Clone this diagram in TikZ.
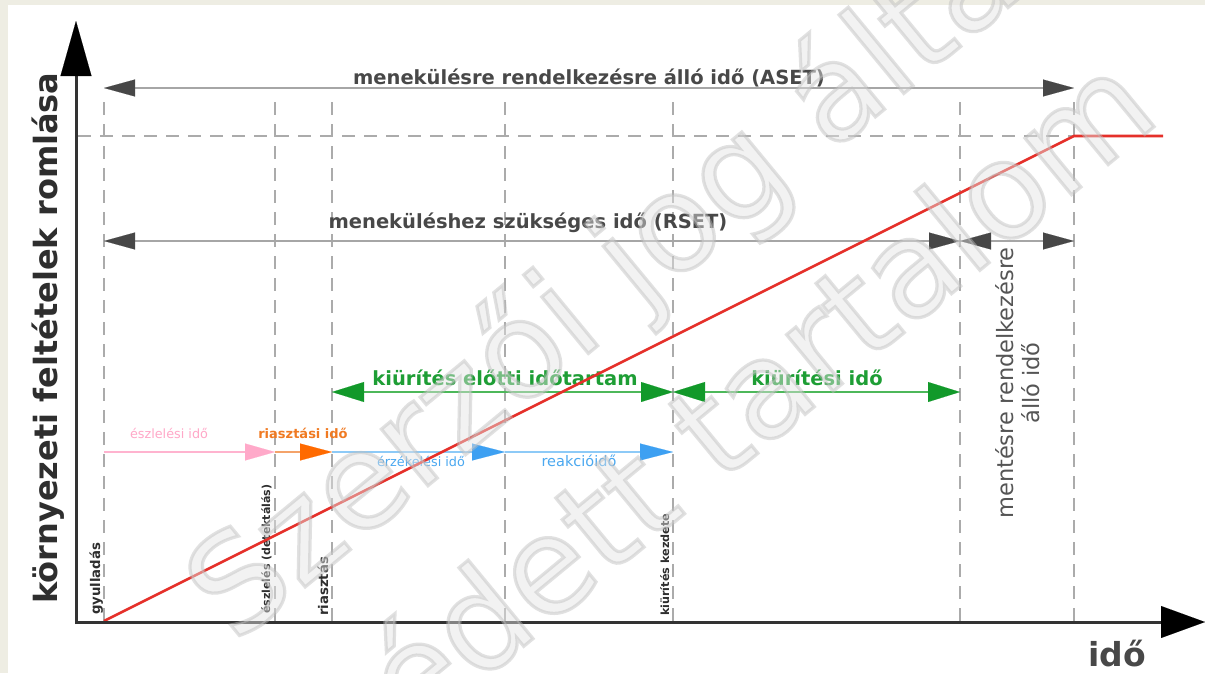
\documentclass[tikz,border=0pt]{standalone}
\usepackage{fontspec}
\setmainfont{DejaVu Sans}
\usetikzlibrary{arrows.meta}
\definecolor{bgbeige}{HTML}{EEEDE3}
\definecolor{axiscol}{HTML}{333333}
\definecolor{dashcol}{HTML}{ABABAB}
\definecolor{dimline}{HTML}{A6A6A6}
\definecolor{dimhead}{HTML}{474747}
\definecolor{dimtext}{HTML}{484848}
\definecolor{grline}{HTML}{4DB85A}
\definecolor{grhead}{HTML}{12992A}
\definecolor{grtext}{HTML}{1E9E35}
\definecolor{pkline}{HTML}{FFB3CF}
\definecolor{pkhead}{HTML}{FFA9C9}
\definecolor{pktext}{HTML}{FFA8C8}
\definecolor{orline}{HTML}{F4A36A}
\definecolor{orhead}{HTML}{FF6A00}
\definecolor{ortext}{HTML}{F07A22}
\definecolor{blline}{HTML}{8DCAF7}
\definecolor{blhead}{HTML}{3DA0F2}
\definecolor{bltext}{HTML}{4AA8F0}
\definecolor{redcol}{HTML}{E5302A}
\definecolor{wmfill}{HTML}{E4E4E4}
\definecolor{labcol}{HTML}{2E2E2E}
\definecolor{mentcol}{HTML}{555555}
\newcommand\myfs[2]{\fontsize{#1}{#2}\selectfont}
\newcommand\wmoutline[1]{\special{pdf:literal direct 0.74 G 3.2 w 2 Tr}#1\special{pdf:literal direct 0 Tr}}
\tikzset{
  dashln/.style={draw=dashcol, line width=2pt, dash pattern=on 13pt off 9pt},
  axisln/.style={draw=axiscol, line width=3pt},
  redln/.style={draw=redcol, line width=2.6pt, line join=miter},
  gtip/.tip={Triangle[length=31pt,width=17pt,color=dimhead,line width=0.1pt]},
  gntip/.tip={Triangle[length=32pt,width=20pt,color=grhead,line width=0.1pt]},
  pktip/.tip={Triangle[length=30pt,width=17pt,color=pkhead,line width=0.1pt]},
  ortip/.tip={Triangle[length=32pt,width=17pt,color=orhead,line width=0.1pt]},
  bltip/.tip={Triangle[length=33pt,width=17pt,color=blhead,line width=0.1pt]},
  graydim/.style={draw=dimline, line width=2pt, gtip-gtip},
  greendim/.style={draw=grline, line width=2pt, gntip-gntip},
  bigtext/.style={font=\bfseries\myfs{19.5}{23}, inner sep=0pt, anchor=base},
  smalltext/.style={font=\myfs{12.8}{15}, inner sep=0pt, anchor=base},
  evlabel/.style={font=\bfseries\myfs{12}{14}, text=labcol, rotate=90, inner sep=0pt, anchor=base west},
  wm/.style={rotate=39.5, font=\myfs{134}{134}, inner sep=0pt, text=wmfill, text opacity=0.45}
}
\begin{document}
\begin{tikzpicture}[x=1pt,y=-1pt]
\useasboundingbox (0,0) rectangle (1205,673);
\fill[bgbeige] (0,0) rectangle (1205,673);
\fill[white] (8,5) rectangle (1205,673);

% vertical dashed event lines
\foreach \n/\xx in {g/104,e/275,r/332,s/505,k/673,m/960,a/1074} {
  \coordinate (top\n) at (\xx,102);
  \coordinate (bot\n) at (\xx,621);
  \draw[dashln] (top\n) -- (bot\n);
}
\coordinate (hl) at (78,136);
\coordinate (hr) at (1074,136);
\draw[dashln] (hl) -- (hr);

% ASET / RSET
\coordinate (aL) at (104,88);
\coordinate (aR) at (1074,88);
\draw[graydim] (aL) -- (aR);
\coordinate (bL) at (104,241);
\coordinate (bM) at (960,241);
\coordinate (bR) at (1074,241);
\draw[graydim] (bL) -- (bM);
\draw[graydim] (bM) -- (bR);

% green
\coordinate (cL) at (332,392);
\coordinate (cM) at (673,392);
\coordinate (cR) at (960,392);
\draw[greendim] (cL) -- (cM);
\draw[greendim] (cM) -- (cR);

% low line
\coordinate (d0) at (104,452);
\coordinate (d1) at (275,452);
\coordinate (d2) at (332,452);
\coordinate (d3) at (505,452);
\coordinate (d4) at (673,452);
\draw[draw=pkline, line width=2pt, -pktip] (d0) -- (d1);
\draw[draw=orline, line width=2pt, -ortip] (d1) -- (d2);
\draw[draw=blline, line width=2pt, -bltip] (d2) -- (d3);
\draw[draw=blline, line width=2pt, -bltip] (d3) -- (d4);

% texts
\node[bigtext, text=dimtext] (tAset) at (589,84) {menekülésre rendelkezésre álló idő (ASET)};
\node[bigtext, text=dimtext] (tRset) at (528,228) {meneküléshez szükséges idő (RSET)};
\node[bigtext, text=grtext] (tPre) at (505,385) {kiürítés előtti időtartam};
\node[bigtext, text=grtext] (tEvac) at (817,385) {kiürítési idő};
\node[smalltext, text=pktext] (tEszl) at (169,438) {észlelési idő};
\node[smalltext, text=ortext, font=\bfseries\myfs{13}{15}] (tRiaszt) at (303,438) {riasztási idő};
\node[smalltext, text=bltext] (tErz) at (421,466) {érzékelési idő};
\node[smalltext, text=bltext, font=\myfs{14.5}{16}] (tReak) at (579,466) {reakcióidő};

\node[evlabel, font=\bfseries\myfs{13.3}{15}] (lGy) at (100,615) {gyulladás};
\node[evlabel, font=\bfseries\myfs{11}{13}] (lEsz) at (270,614) {észlelés (detektálás)};
\node[evlabel, font=\bfseries\myfs{13.3}{15}] (lRi) at (328,616) {riasztás};
\node[evlabel, font=\bfseries\myfs{11.2}{13}] (lKi) at (669,616) {kiürítés kezdete};

\node[rotate=90, align=center, font=\myfs{22.5}{26}, text=mentcol, inner sep=0pt] (tMent) at (1018,383) {mentésre rendelkezésre\\álló idő};

% red curve
\coordinate (r0) at (104,621);
\coordinate (r1) at (1074,136);
\coordinate (r2) at (1163,136);
\draw[redln] (r0) -- (r1) -- (r2);

% axes
\coordinate (Ob) at (76,624);
\coordinate (O) at (76,622);
\coordinate (Ytip) at (76,21);
\coordinate (Xtip) at (1205,622);
\draw[axisln, -{Triangle[length=55pt,width=31pt,color=black,line width=0.1pt]}] (Ob) -- (Ytip);
\draw[axisln, -{Triangle[length=44pt,width=32pt,color=black,line width=0.1pt]}] (O) -- (Xtip);

\node[rotate=90, font=\bfseries\myfs{32}{36}, text=labcol, inner sep=0pt, anchor=base] (yLab) at (57,338) {környezeti feltételek romlása};
\node[font=\bfseries\myfs{33}{36}, text=dimtext, inner sep=0pt, anchor=base west] (xLab) at (1088,666) {idő};

% watermark (outlined text on top)
\node[wm] (wmA) at (620,276) {\wmoutline{Szerzői jog által}};
\node[wm] (wmB) at (724,413) {\wmoutline{védett tartalom}};
\end{tikzpicture}
\end{document}
